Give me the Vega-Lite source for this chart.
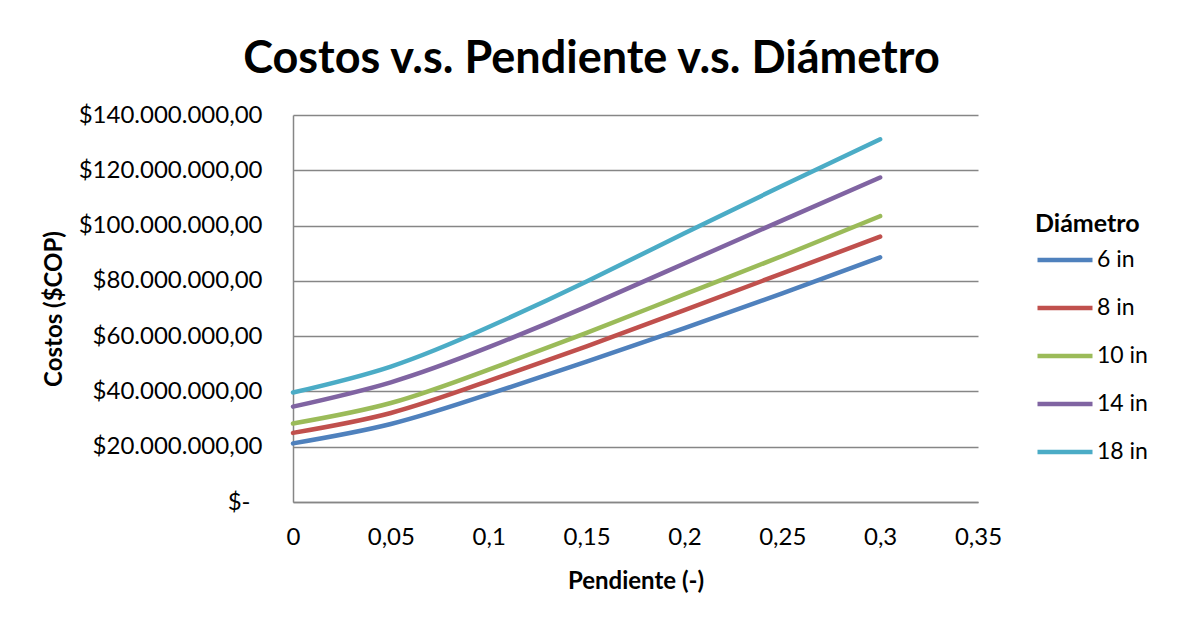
{
  "$schema": "https://vega.github.io/schema/vega-lite/v6.json",
  "width": 685,
  "height": 387,
  "autosize": {"type": "none"},
  "padding": {"left": 293, "top": 115, "right": 200, "bottom": 122},
  "background": "white",
  "title": {
    "text": "Costos v.s. Pendiente v.s. Diámetro",
    "font": "Lato",
    "fontSize": 45,
    "fontWeight": "bold",
    "color": "#000000",
    "anchor": "middle",
    "dx": -44,
    "offset": 21
  },
  "data": {
    "values": [
      {"pendiente": 0.00, "costo": 21200000, "diametro": "6 in"},
      {"pendiente": 0.05, "costo": 28200000, "diametro": "6 in"},
      {"pendiente": 0.10, "costo": 39000000, "diametro": "6 in"},
      {"pendiente": 0.15, "costo": 50800000, "diametro": "6 in"},
      {"pendiente": 0.20, "costo": 62900000, "diametro": "6 in"},
      {"pendiente": 0.25, "costo": 75500000, "diametro": "6 in"},
      {"pendiente": 0.30, "costo": 88500000, "diametro": "6 in"},
      {"pendiente": 0.00, "costo": 25000000, "diametro": "8 in"},
      {"pendiente": 0.05, "costo": 32200000, "diametro": "8 in"},
      {"pendiente": 0.10, "costo": 43800000, "diametro": "8 in"},
      {"pendiente": 0.15, "costo": 56300000, "diametro": "8 in"},
      {"pendiente": 0.20, "costo": 69400000, "diametro": "8 in"},
      {"pendiente": 0.25, "costo": 82700000, "diametro": "8 in"},
      {"pendiente": 0.30, "costo": 96000000, "diametro": "8 in"},
      {"pendiente": 0.00, "costo": 28400000, "diametro": "10 in"},
      {"pendiente": 0.05, "costo": 35800000, "diametro": "10 in"},
      {"pendiente": 0.10, "costo": 47900000, "diametro": "10 in"},
      {"pendiente": 0.15, "costo": 61200000, "diametro": "10 in"},
      {"pendiente": 0.20, "costo": 75100000, "diametro": "10 in"},
      {"pendiente": 0.25, "costo": 89000000, "diametro": "10 in"},
      {"pendiente": 0.30, "costo": 103400000, "diametro": "10 in"},
      {"pendiente": 0.00, "costo": 34500000, "diametro": "14 in"},
      {"pendiente": 0.05, "costo": 43300000, "diametro": "14 in"},
      {"pendiente": 0.10, "costo": 56000000, "diametro": "14 in"},
      {"pendiente": 0.15, "costo": 70700000, "diametro": "14 in"},
      {"pendiente": 0.20, "costo": 86300000, "diametro": "14 in"},
      {"pendiente": 0.25, "costo": 101900000, "diametro": "14 in"},
      {"pendiente": 0.30, "costo": 117400000, "diametro": "14 in"},
      {"pendiente": 0.00, "costo": 39600000, "diametro": "18 in"},
      {"pendiente": 0.05, "costo": 49000000, "diametro": "18 in"},
      {"pendiente": 0.10, "costo": 63300000, "diametro": "18 in"},
      {"pendiente": 0.15, "costo": 79800000, "diametro": "18 in"},
      {"pendiente": 0.20, "costo": 97200000, "diametro": "18 in"},
      {"pendiente": 0.25, "costo": 114400000, "diametro": "18 in"},
      {"pendiente": 0.30, "costo": 131200000, "diametro": "18 in"}
    ]
  },
  "mark": {
    "type": "line",
    "interpolate": "natural",
    "strokeWidth": 4.5,
    "strokeCap": "round",
    "strokeJoin": "round"
  },
  "encoding": {
    "x": {
      "field": "pendiente",
      "type": "quantitative",
      "scale": {"domain": [0, 0.35], "nice": false, "zero": false},
      "axis": {
        "title": "Pendiente (-)",
        "values": [0, 0.05, 0.1, 0.15, 0.2, 0.25, 0.3, 0.35],
        "labelExpr": "replace(format(datum.value, '.2~f'), '.', ',')",
        "labelFlush": false,
        "grid": false,
        "ticks": false,
        "labelPadding": 23,
        "titlePadding": 20
      }
    },
    "y": {
      "field": "costo",
      "type": "quantitative",
      "scale": {"domain": [0, 140000000], "nice": false},
      "axis": {
        "title": "Costos ($COP)",
        "values": [0, 20000000, 40000000, 60000000, 80000000, 100000000, 120000000, 140000000],
        "labelExpr": "datum.value == 0 ? '$-' : '$' + replace(format(datum.value, ','), regexp(',', 'g'), '.') + ',00'",
        "labelPadding": {"condition": {"test": "datum.value == 0", "value": 43}, "value": 31},
        "labelLimit": 400,
        "grid": true,
        "ticks": false,
        "titlePadding": 27
      }
    },
    "color": {
      "field": "diametro",
      "type": "nominal",
      "sort": ["6 in", "8 in", "10 in", "14 in", "18 in"],
      "scale": {
        "domain": ["6 in", "8 in", "10 in", "14 in", "18 in"],
        "range": ["#4F81BD", "#C0504D", "#9BBB59", "#8064A2", "#4BACC6"]
      },
      "legend": {
        "title": "Diámetro",
        "orient": "none",
        "legendX": 742,
        "legendY": 97,
        "symbolType": "stroke",
        "symbolSize": 3025,
        "symbolStrokeWidth": 4.5,
        "labelOffset": 2,
        "clipHeight": 26,
        "rowPadding": 22,
        "titlePadding": 10
      }
    }
  },
  "config": {
    "view": {"stroke": null},
    "axis": {
      "labelFont": "Lato",
      "labelFontSize": 24,
      "labelColor": "#000000",
      "titleFont": "Lato",
      "titleFontSize": 24,
      "titleFontWeight": "bold",
      "titleColor": "#000000",
      "domainColor": "#868686",
      "domainWidth": 1.5,
      "gridColor": "#868686",
      "gridWidth": 1.5,
      "gridOpacity": 1
    },
    "legend": {
      "labelFont": "Lato",
      "labelFontSize": 23,
      "labelColor": "#000000",
      "titleFont": "Lato",
      "titleFontSize": 25,
      "titleFontWeight": "bold",
      "titleColor": "#000000",
      "labelLimit": 200
    }
  }
}
